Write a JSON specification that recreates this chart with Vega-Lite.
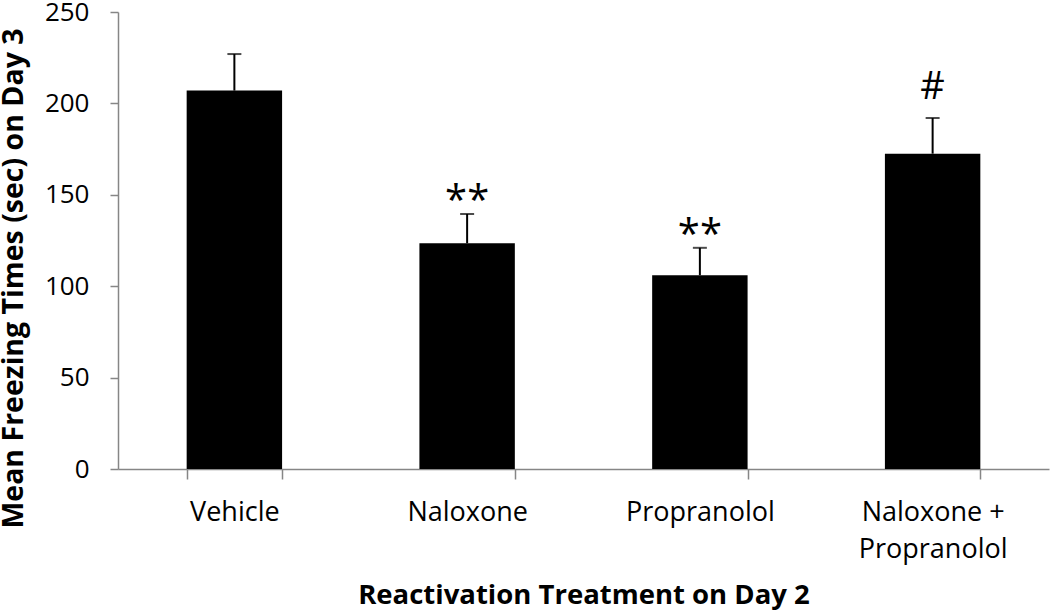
{
  "$schema": "https://vega.github.io/schema/vega-lite/v6.json",
  "autosize": "none",
  "width": 931,
  "height": 457,
  "padding": {"left": 118, "top": 12, "right": 1, "bottom": 144},
  "background": "white",
  "config": {"view": {"stroke": null}, "font": "Open Sans"},
  "data": {"values": [
    {"treatment": "Vehicle", "mean": 207, "upper": 227, "sig": ""},
    {"treatment": "Naloxone", "mean": 123.5, "upper": 139.5, "sig": "**"},
    {"treatment": "Propranolol", "mean": 106, "upper": 121, "sig": "**"},
    {"treatment": "Naloxone + Propranolol", "mean": 172.5, "upper": 192, "sig": "#"}
  ]},
  "encoding": {
    "x": {
      "field": "treatment", "type": "nominal", "sort": null,
      "scale": {"paddingInner": 0.59, "paddingOuter": 0.295},
      "axis": {
        "title": "Reactivation Treatment on Day 2",
        "titleFontSize": 27.5, "titleFontWeight": "bold", "titleColor": "black",
        "titleBaseline": "alphabetic", "titleY": 134,
        "labelAngle": 0, "labelFontSize": 27, "labelColor": "black", "labelPadding": 20,
        "labelExpr": "datum.value == 'Naloxone + Propranolol' ? ['Naloxone +', 'Propranolol'] : datum.value",
        "labelLineHeight": 37,
        "tickBand": "extent", "tickSize": 10, "tickColor": "#868686", "tickWidth": 1.5,
        "domainColor": "#868686", "domainWidth": 1.5
      }
    }
  },
  "layer": [
    {
      "mark": {"type": "bar", "color": "black"},
      "encoding": {
        "y": {
          "field": "mean", "type": "quantitative",
          "scale": {"domain": [0, 250], "nice": false},
          "axis": {
            "title": "Mean Freezing Times (sec) on Day 3",
            "titleFontSize": 28.5, "titleFontWeight": "bold", "titleColor": "black",
            "titleY": 266, "titleX": -90,
            "values": [0, 50, 100, 150, 200, 250],
            "grid": false, "labelFontSize": 26, "labelColor": "black", "labelPadding": 21,
            "tickSize": 8, "tickColor": "#868686", "tickWidth": 1.5,
            "domainColor": "#868686", "domainWidth": 1.5
          }
        }
      }
    },
    {
      "mark": {"type": "rule", "color": "black", "strokeWidth": 2},
      "encoding": {"y": {"field": "mean", "type": "quantitative"}, "y2": {"field": "upper"}}
    },
    {
      "mark": {"type": "tick", "color": "black", "thickness": 2, "size": 14},
      "encoding": {"y": {"field": "upper", "type": "quantitative"}}
    },
    {
      "transform": [{"filter": "datum.sig == '**'"}],
      "mark": {"type": "text", "fontSize": 40, "dy": 0, "baseline": "alphabetic", "color": "black"},
      "encoding": {"y": {"field": "upper", "type": "quantitative"}, "text": {"field": "sig"}}
    },
    {
      "transform": [{"filter": "datum.sig == '#'"}],
      "mark": {"type": "text", "fontSize": 38, "dy": -19, "baseline": "alphabetic", "color": "black"},
      "encoding": {"y": {"field": "upper", "type": "quantitative"}, "text": {"field": "sig"}}
    }
  ]
}
